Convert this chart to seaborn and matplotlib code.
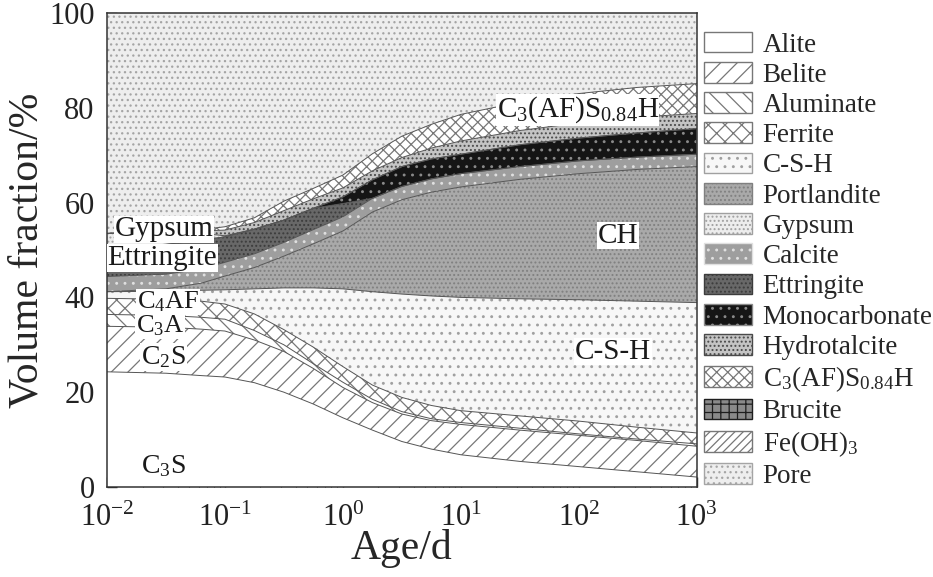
import matplotlib
matplotlib.use("Agg")
import matplotlib.pyplot as plt
import seaborn as sns
from matplotlib.patches import Patch

# idade (d) e limites superiores acumulados (% em volume)
idade = [0.01, 0.0316, 0.063, 0.1, 0.178, 0.316, 0.562, 1, 1.78, 3.16, 5.62, 10, 31.6, 100, 316, 1000]

topo_alite = [24.3, 24.0, 23.5, 23.2, 22.0, 20.0, 17.5, 14.6, 12.0, 9.6, 8.0, 6.8, 5.4, 4.3, 3.2, 2.1]
topo_belite = [33.9, 33.7, 33.3, 32.9, 31.0, 28.6, 25.0, 21.0, 17.8, 15.4, 14.0, 13.2, 12.0, 10.9, 9.8, 8.6]
topo_aluminato = [36.4, 36.2, 35.8, 35.4, 33.0, 30.0, 26.0, 22.1, 18.5, 15.9, 14.4, 13.6, 12.4, 11.2, 10.1, 9.1]
topo_ferrita = [39.8, 39.6, 39.2, 38.6, 36.5, 33.2, 29.5, 25.4, 21.5, 18.9, 17.2, 16.1, 15.0, 13.9, 12.6, 11.4]
topo_csh = [41.2, 41.3, 41.5, 41.6, 41.8, 42.0, 42.0, 41.8, 41.2, 40.7, 40.3, 40.0, 39.7, 39.5, 39.2, 38.9]
topo_portlandita = [41.2, 41.8, 43.0, 44.5, 46.3, 48.7, 51.3, 54.0, 58.0, 60.6, 62.2, 63.3, 64.9, 66.1, 67.0, 67.6]
topo_calcita = [44.4, 44.9, 46.0, 47.4, 49.2, 51.6, 54.3, 57.0, 60.9, 63.4, 65.0, 66.1, 67.6, 68.8, 69.6, 70.2]
topo_etringita = [50.5, 51.2, 52.0, 52.8, 54.4, 56.3, 58.8, 59.8, 60.9, 63.4, 65.0, 66.1, 67.6, 68.8, 69.6, 70.2]
topo_monocarb = [50.5, 51.2, 52.0, 52.8, 54.4, 56.3, 58.8, 61.2, 64.8, 67.6, 69.2, 70.2, 72.2, 73.6, 74.7, 75.6]
topo_gipsita = [53.5, 54.0, 53.5, 53.0, 54.4, 56.3, 58.8, 61.2, 64.8, 67.6, 69.2, 70.2, 72.2, 73.6, 74.7, 75.6]
topo_hidrotalcita = [53.5, 54.0, 54.0, 54.2, 55.8, 58.3, 60.8, 63.1, 66.7, 69.5, 71.5, 73.0, 75.2, 76.8, 78.0, 78.8]
topo_c3afsh = [53.5, 54.0, 54.3, 54.9, 56.8, 60.3, 63.0, 65.8, 70.3, 74.0, 76.5, 78.6, 81.2, 83.0, 84.3, 85.1]
topo_poro = [100] * len(idade)

fases = ['Alite', 'Belite', 'Aluminate', 'Ferrite', 'C-S-H', 'Portlandite', 'Gypsum', 'Calcite',
         'Ettringite', 'Monocarbonate', 'Hydrotalcite', r'C$_3$(AF)S$_{0.84}$H', 'Brucite',
         r'Fe(OH)$_3$', 'Pore']

# estilo de cada fase: cor de fundo, hachura, cor da hachura
estilo = {
    'Alite': ('white', '', '#777777'),
    'Belite': ('white', '//', '#777777'),
    'Aluminate': ('white', '\\\\', '#777777'),
    'Ferrite': ('white', 'xx', '#777777'),
    'C-S-H': ('#f7f7f7', '..', '#a0a0a0'),
    'Portlandite': ('#a9a9a9', '....', '#808080'),
    'Gypsum': ('#ededed', '....', '#a0a0a0'),
    'Calcite': ('#9e9e9e', '..', '#e0e0e0'),
    'Ettringite': ('#686868', '....', '#3c3c3c'),
    'Monocarbonate': ('#151515', '..', '#8a8a8a'),
    'Hydrotalcite': ('#c4c4c4', '....', '#4a4a4a'),
    r'C$_3$(AF)S$_{0.84}$H': ('white', 'xxx', '#777777'),
    'Brucite': ('#8a8a8a', '++', '#1e1e1e'),
    r'Fe(OH)$_3$': ('white', '////', '#777777'),
    'Pore': ('#eeeeee', '...', '#a5a5a5'),
}

sns.set_theme(style="ticks")
plt.rcParams['font.family'] = ['Liberation Serif', 'DejaVu Serif']
plt.rcParams['mathtext.fontset'] = 'custom'
plt.rcParams['mathtext.rm'] = 'Liberation Serif'
plt.rcParams['mathtext.it'] = 'Liberation Serif'
plt.rcParams['hatch.linewidth'] = 0.9

fig = plt.figure(figsize=(9.33, 5.77), dpi=100)
ax = fig.add_axes([0.1147, 0.156, 0.632, 0.8215])
ax.set_xscale('log')

# ordem de empilhamento (de baixo para cima)
pilha = [
    ('Alite', topo_alite), ('Belite', topo_belite), ('Aluminate', topo_aluminato),
    ('Ferrite', topo_ferrita), ('C-S-H', topo_csh), ('Portlandite', topo_portlandita),
    ('Calcite', topo_calcita), ('Ettringite', topo_etringita), ('Monocarbonate', topo_monocarb),
    ('Gypsum', topo_gipsita), ('Hydrotalcite', topo_hidrotalcita),
    (r'C$_3$(AF)S$_{0.84}$H', topo_c3afsh), ('Pore', topo_poro),
]

base = [0] * len(idade)
for nome, topo in pilha:
    face, hachura, cor_h = estilo[nome]
    ax.fill_between(idade, base, topo, facecolor=face, edgecolor=cor_h, hatch=hachura, linewidth=0)
    base = topo

for nome, topo in pilha[:-1]:
    sns.lineplot(x=idade, y=topo, ax=ax, color='#555555', linewidth=0.7)

ax.set_xlim(0.01, 1000)
ax.set_ylim(0, 100)
ax.set_yticks([0, 20, 40, 60, 80, 100])
ax.tick_params(which='both', direction='in', top=False, right=False, labelsize=22, colors='#222222')
ax.tick_params(which='major', length=7, width=1)
ax.tick_params(which='minor', length=4, width=0.8)
ax.tick_params(axis='x', pad=12)
ax.tick_params(axis='y', pad=9)
for s in ax.spines.values():
    s.set_color('#333333')
    s.set_linewidth(1.1)

ax.set_xlabel('Age/d', fontsize=30, labelpad=-3)
ax.set_ylabel('Volume fraction/%', fontsize=30, labelpad=2)

caixa = dict(facecolor='white', edgecolor='none', pad=0.5)
rotulos = [
    ('Gypsum', 0.0303, 54.4, 21), ('Ettringite', 0.0294, 48.3, 21), (r'C$_4$AF', 0.033, 39.0, 19),
    (r'C$_3$A', 0.028, 34.0, 19), (r'C$_2$S', 0.030, 27.4, 20), (r'C$_3$S', 0.030, 4.4, 20),
    ('CH', 214, 53.0, 21), ('C-S-H', 195, 28.5, 21), (r'C$_3$(AF)S$_{0.84}$H', 98, 79.5, 21),
]
for txt, xr, yr, tam in rotulos:
    ax.text(xr, yr, txt, fontsize=tam, ha='center', va='center', bbox=caixa, color='#1a1a1a')

alcas = []
for nome in fases:
    face, hachura, cor_h = estilo[nome]
    alcas.append(Patch(facecolor=face, edgecolor=cor_h, hatch=hachura, linewidth=1))
fig.legend(alcas, fases, loc='upper left', bbox_to_anchor=(0.755, 0.945), frameon=False,
           fontsize=19.5, handlelength=1.75, handleheight=0.8, handletextpad=0.4,
           labelspacing=0.165, borderpad=0, borderaxespad=0)

fig.savefig('out.png', dpi=100, facecolor='white')
